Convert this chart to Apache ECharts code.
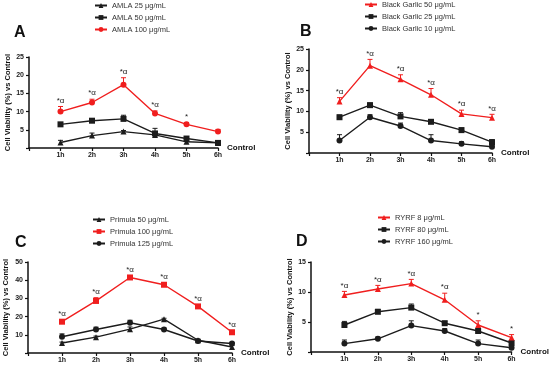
<!DOCTYPE html>
<html><head><meta charset="utf-8">
<script src="https://cdn.jsdelivr.net/npm/echarts@6/dist/echarts.min.js"></script>
<style>html,body{margin:0;padding:0;background:#fff}#c{width:550px;height:370px}</style>
</head><body><div id="c"></div>
<script>
// ---- data ----
const hours = [1, 2, 3, 4, 5, 6];
const hourLabels = ['1h', '2h', '3h', '4h', '5h', '6h'];

// Panel A
const amla25 = [1.5, 3.4, 4.5, 3.6, 1.7, 1.4];
const amla25Err = [0.6, 0.7, 0.3, 0.4, 0.3, 0.2];
const amla50 = [6.5, 7.5, 8.0, 4.0, 2.6, 1.4];
const amla50Err = [0.4, 0.4, 1.0, 1.4, 0.4, 0.3];
const amla100 = [10.0, 12.5, 17.4, 9.5, 6.5, 4.5];
const amla100Err = [1.4, 0.9, 1.9, 0.7, 0.5, 0.6];
const amlaMarks = ['*α', '*α', '*α', '*α', '*', ''];

// Panel B
const bg50 = [12.4, 21.0, 17.7, 14.0, 9.4, 8.5];
const bg50Err = [0.9, 1.5, 1.1, 1.5, 0.9, 0.8];
const bg25 = [8.6, 11.5, 8.8, 7.5, 5.5, 2.6];
const bg25Err = [0.5, 0.5, 0.9, 0.4, 0.5, 0.6];
const bg10 = [3.0, 8.6, 6.5, 3.0, 2.2, 1.5];
const bg10Err = [1.4, 0.6, 0.7, 1.4, 0.5, 0.4];
const bgMarks = ['*α', '*α', '*α', '*α', '*α', '*α'];

// Panel C
const pr50 = [5.5, 8.7, 13.1, 18.6, 7.0, 3.3];
const pr50Err = [0.5, 0.6, 1.2, 0.5, 0.6, 0.8];
const pr100 = [17.2, 28.6, 41.5, 37.5, 25.6, 11.4];
const pr100Err = [0.8, 1.8, 0.9, 0.8, 0.8, 1.0];
const pr125 = [8.9, 12.9, 16.6, 12.9, 6.6, 5.2];
const pr125Err = [1.6, 1.3, 1.4, 0.8, 0.8, 0.6];
const prMarks = ['*α', '*α', '*α', '*α', '*α', '*α'];

// Panel D
const ry8 = [9.5, 10.5, 11.4, 8.7, 4.5, 2.4];
const ry8Err = [0.6, 0.6, 0.7, 1.1, 0.7, 0.5];
const ry80 = [4.5, 6.7, 7.4, 4.8, 3.5, 1.5];
const ry80Err = [0.6, 0.4, 0.6, 0.3, 0.3, 0.4];
const ry160 = [1.4, 2.2, 4.4, 3.5, 1.4, 0.7];
const ry160Err = [0.6, 0.3, 0.8, 0.4, 0.6, 0.2];
const ryMarks = ['*α', '*α', '*α', '*α', '*', '*'];

const yMax = [25, 25, 50, 15];
const yInterval = [5, 5, 10, 5];
const panelTitles = ['A', 'B', 'C', 'D'];
const yName = 'Cell Viability (%) vs Control';
const xName = 'Control';

// ---- styling ----
const RED = '#f01e1e', BLK = '#1c1c1c';
const FONT = 'Liberation Sans, Arial, sans-serif';

const grids = [
  {left: 29, top: 57, width: 189, height: 91},
  {left: 309, top: 49, width: 183, height: 104},
  {left: 28, top: 262, width: 204, height: 91},
  {left: 311, top: 262, width: 205, height: 90}
];
const yNameGaps = [16, 12, 18, 17];

const panels = [
  {series: [
    {name: 'AMLA 25 μg/mL', v: amla25, e: amla25Err, c: BLK, s: 'triangle'},
    {name: 'AMLA 50 μg/mL', v: amla50, e: amla50Err, c: BLK, s: 'rect'},
    {name: 'AMLA 100 μg/mL', v: amla100, e: amla100Err, c: RED, s: 'circle', m: amlaMarks}
  ], legend: {left: 94, top: 1}, title: {left: 14, top: 25}},
  {series: [
    {name: 'Black Garlic 50 μg/mL', v: bg50, e: bg50Err, c: RED, s: 'triangle', m: bgMarks},
    {name: 'Black Garlic 25 μg/mL', v: bg25, e: bg25Err, c: BLK, s: 'rect'},
    {name: 'Black Garlic 10 μg/mL', v: bg10, e: bg10Err, c: BLK, s: 'circle'}
  ], legend: {left: 364, top: 0}, title: {left: 300, top: 24}},
  {series: [
    {name: 'Primula 50 μg/mL', v: pr50, e: pr50Err, c: BLK, s: 'triangle'},
    {name: 'Primula 100 μg/mL', v: pr100, e: pr100Err, c: RED, s: 'rect', m: prMarks},
    {name: 'Primula 125 μg/mL', v: pr125, e: pr125Err, c: BLK, s: 'circle'}
  ], legend: {left: 92, top: 215}, title: {left: 15, top: 235}},
  {series: [
    {name: 'RYRF 8 μg/mL', v: ry8, e: ry8Err, c: RED, s: 'triangle', m: ryMarks},
    {name: 'RYRF 80 μg/mL', v: ry80, e: ry80Err, c: BLK, s: 'rect'},
    {name: 'RYRF 160 μg/mL', v: ry160, e: ry160Err, c: BLK, s: 'circle'}
  ], legend: {left: 377, top: 213}, title: {left: 296, top: 234}}
];

function errRender(color, marks) {
  return function (params, api) {
    const x = api.value(0), y = api.value(1), e = api.value(2);
    const p0 = api.coord([x, y]);
    const p1 = api.coord([x, y + e]);
    const ch = [
      {type: 'line', shape: {x1: p0[0], y1: p0[1], x2: p1[0], y2: p1[1]}, style: {stroke: color, lineWidth: 1}},
      {type: 'line', shape: {x1: p1[0] - 2.5, y1: p1[1], x2: p1[0] + 2.5, y2: p1[1]}, style: {stroke: color, lineWidth: 1}}
    ];
    if (marks && marks[params.dataIndex]) {
      ch.push({type: 'text', x: p1[0], y: p1[1] - 2, style: {
        text: marks[params.dataIndex], fill: '#222', font: '8px ' + FONT,
        align: 'center', verticalAlign: 'bottom'}});
    }
    return {type: 'group', children: ch};
  };
}

const xAxes = [], yAxes = [], series = [], legends = [], titles = [];
panels.forEach((p, i) => {
  xAxes.push({
    gridIndex: i, type: 'value', min: 0, max: 6, interval: 1,
    name: xName, nameLocation: 'end', nameGap: 9,
    nameTextStyle: {fontFamily: FONT, fontWeight: 'bold', fontSize: 8, color: '#111'},
    axisLine: {lineStyle: {color: '#111', width: 1.5}},
    axisTick: {length: 3, lineStyle: {color: '#111', width: 1.2}},
    axisLabel: {margin: 4, fontFamily: FONT, fontWeight: 'bold', fontSize: 7, color: '#222',
      formatter: v => (v >= 1 ? hourLabels[v - 1] : '')},
    splitLine: {show: false}
  });
  yAxes.push({
    gridIndex: i, type: 'value', min: 0, max: yMax[i], interval: yInterval[i],
    name: yName, nameLocation: 'middle', nameGap: yNameGaps[i],
    nameTextStyle: {fontFamily: FONT, fontWeight: 'bold', fontSize: 7.5, color: '#111'},
    axisLine: {show: true, lineStyle: {color: '#111', width: 1.5}},
    axisTick: {show: true, length: 3, lineStyle: {color: '#111', width: 1.2}},
    axisLabel: {margin: 5, fontFamily: FONT, fontWeight: 'bold', fontSize: 7, color: '#222',
      formatter: v => (v === 0 ? '' : String(v))},
    splitLine: {show: false}
  });
  const ordered = p.series.slice().sort((a, b) => (a.c === RED) - (b.c === RED));
  ordered.forEach(s => {
    series.push({
      name: s.name + ' err', type: 'custom', xAxisIndex: i, yAxisIndex: i,
      renderItem: errRender(s.c, s.m), silent: true, z: 2,
      data: hours.map((h, k) => [h, s.v[k], s.e[k]])
    });
    series.push({
      name: s.name, type: 'line', xAxisIndex: i, yAxisIndex: i,
      symbol: s.s, symbolSize: 6, z: 3,
      lineStyle: {color: s.c, width: 1.4}, itemStyle: {color: s.c},
      data: hours.map((h, k) => [h, s.v[k]])
    });
  });
  legends.push({
    data: p.series.map(s => s.name), orient: 'vertical',
    left: p.legend.left, top: p.legend.top, padding: 0,
    itemWidth: 12, itemHeight: 6, itemGap: 3,
    textStyle: {fontFamily: FONT, fontSize: 7.5, color: '#333', lineHeight: 9}
  });
  titles.push({
    text: panelTitles[i], left: p.title.left, top: p.title.top, padding: 0,
    textStyle: {fontFamily: FONT, fontWeight: 'bold', fontSize: 16, color: '#111'}
  });
});

const chart = echarts.init(document.getElementById('c'), null, {renderer: 'canvas'});
chart.setOption({
  animation: false,
  backgroundColor: '#fff',
  title: titles,
  legend: legends,
  grid: grids,
  xAxis: xAxes,
  yAxis: yAxes,
  series: series
});
</script>
</body></html>
